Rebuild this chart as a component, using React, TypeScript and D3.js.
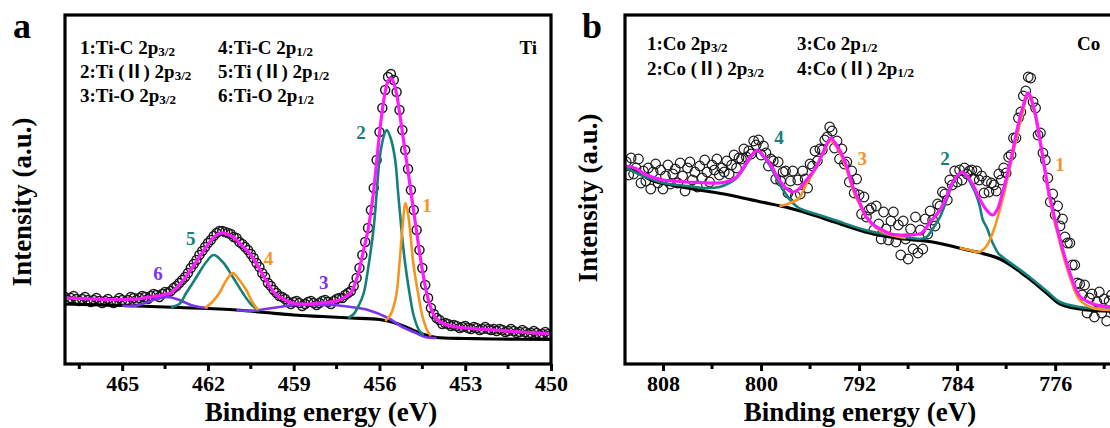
import { useEffect, useRef } from 'react';
import * as d3 from 'd3';

type Pt = [number, number];

// ---------- panel a : Ti 2p ----------
const tiScanStart = 467;
const tiScanStep = 0.1;
const tiCounts = [
  67, 64, 66, 68, 65, 63, 65, 67, 64, 62,
  64, 66, 63, 61, 63, 65, 62, 61, 63, 66,
  64, 62, 64, 67, 66, 64, 66, 68, 67, 65,
  68, 70, 69, 67, 70, 72, 71, 73, 76, 78,
  81, 84, 87, 91, 96, 100, 104, 109, 113, 117,
  121, 124, 128, 131, 133, 133, 132, 131, 130, 127,
  126, 122, 120, 117, 114, 110, 106, 101, 97, 91,
  87, 81, 78, 74, 71, 68, 67, 65, 62, 60,
  62, 63, 61, 58, 60, 62, 63, 61, 59, 61,
  63, 64, 62, 60, 63, 65, 66, 66, 69, 71,
  73, 78, 86, 96, 109, 122, 136, 154, 176, 204,
  232, 256, 274, 287, 290, 284, 272, 254, 234, 214,
  195, 174, 154, 134, 114, 96, 79, 66, 56, 50,
  46, 44, 40, 41, 40, 38, 39, 38, 36, 37,
  38, 36, 35, 37, 36, 34, 35, 37, 35, 34,
  35, 33, 35, 34, 32, 33, 35, 33, 31, 32,
  34, 32, 30, 31, 33, 31, 29, 30, 32, 30,
  29,
];
const tiBackground: Pt[] = [
  [467, 60], [465, 58.5], [463, 56.5], [461, 54], [460, 51.5], [459, 49], [458, 47.5],
  [457, 46], [456, 44.5], [455.5, 41.5], [455, 36], [454.5, 30], [454, 26.5],
  [453, 25.5], [452, 25], [450, 24.5],
];
const tiEnvelope: Pt[] = [
  [467, 66], [466.5, 65.5], [466, 65], [465.5, 64.5], [465, 64.5], [464.5, 65], [464, 67],
  [463.6, 69], [463.3, 71], [463.1, 76], [462.8, 86], [462.53, 97], [462.3, 107],
  [462.06, 117], [461.85, 125], [461.7, 129], [461.5, 131], [461.25, 129], [461, 124],
  [460.8, 118], [460.55, 111], [460.3, 100], [460.08, 89], [459.85, 78], [459.6, 69],
  [459.3, 64], [459.04, 61], [458.5, 60], [458.1, 61], [457.7, 62], [457.4, 64],
  [457.2, 67], [457, 71], [456.9, 77], [456.8, 85], [456.7, 95], [456.6, 108],
  [456.5, 121], [456.4, 134], [456.3, 152], [456.2, 174], [456.1, 202], [456, 230],
  [455.9, 254], [455.8, 272], [455.7, 283], [455.6, 286], [455.5, 281], [455.4, 270],
  [455.3, 252], [455.2, 232], [455.1, 212], [455, 193], [454.9, 172], [454.8, 152],
  [454.7, 132], [454.6, 112], [454.5, 94], [454.4, 78], [454.3, 65], [454.2, 56],
  [454.1, 49], [454, 45], [453.8, 41], [453.5, 38], [453, 36], [452, 34], [451, 32], [450, 30],
];
const tiPeak1: Pt[] = [
  [455.8, 43], [455.6, 50], [455.5, 58], [455.4, 71], [455.29, 104], [455.2, 135],
  [455.09, 161], [455, 150], [454.9, 125], [454.83, 104], [454.74, 86], [454.65, 71],
  [454.5, 48], [454.32, 33], [454.2, 28],
];
const tiPeak2: Pt[] = [
  [457.1, 46], [456.9, 50], [456.7, 60], [456.55, 71], [456.4, 95], [456.2, 137],
  [456, 204], [455.9, 222], [455.8, 232], [455.74, 234], [455.6, 225], [455.45, 204],
  [455.35, 172], [455.24, 137], [455.1, 100], [454.95, 71], [454.8, 48], [454.6, 33], [454.45, 29],
];
const tiPeak3: Pt[] = [
  [461, 54], [460.5, 53], [460.2, 54], [459.5, 57], [459, 59], [458.1, 59], [457.6, 59],
  [457, 57], [456.4, 54], [455.7, 46], [455.2, 37], [454.8, 32], [454.4, 27], [454, 26],
];
const tiPeak4: Pt[] = [
  [462.1, 56], [461.85, 62], [461.6, 71], [461.35, 84], [461.13, 91], [460.9, 84],
  [460.66, 74], [460.45, 62], [460.25, 54],
];
const tiPeak5: Pt[] = [
  [463.3, 57], [463, 60], [462.76, 71], [462.4, 87], [462.06, 102], [461.8, 109],
  [461.48, 102], [461.13, 87], [460.78, 71], [460.5, 60], [460.2, 53],
];
const tiPeak6: Pt[] = [
  [465, 58.5], [464.6, 58], [464.2, 61], [463.8, 65], [463.4, 67], [463, 64],
  [462.6, 59], [462.3, 57], [462, 56],
];
const tiTicks = [465, 462, 459, 456, 453, 450];
const tiMinorTicks = [466.5, 463.5, 460.5, 457.5, 454.5, 451.5];
const tiLegend = [
  ['1:Ti-C 2p', '3/2', '4:Ti-C 2p', '1/2'],
  ['2:Ti (Ⅱ) 2p', '3/2', '5:Ti (Ⅱ) 2p', '1/2'],
  ['3:Ti-O 2p', '3/2', '6:Ti-O 2p', '1/2'],
];
// peak number tags, placed in data coordinates [eV, intensity]
const tiTags: [string, number, number][] = [
  ['1', 454.34, 152], ['2', 456.65, 225], ['3', 457.95, 75],
  ['4', 459.88, 99], ['5', 462.6, 119], ['6', 463.75, 84],
];

// ---------- panel b : Co 2p ----------
const coScanStart = 811;
const coScanStep = 0.2;
const coCounts = [
  202, 189, 206, 190, 196, 205, 181, 193, 183, 196,
  175, 192, 200, 181, 194, 175, 188, 199, 180, 190,
  195, 181, 201, 188, 173, 196, 202, 184, 192, 177,
  198, 186, 204, 192, 182, 199, 194, 205, 189, 196,
  192, 203, 190, 199, 209, 196, 206, 205, 215, 207,
  213, 210, 223, 219, 224, 209, 218, 211, 198, 205,
  203, 185, 202, 183, 192, 193, 171, 183, 193, 168,
  184, 170, 193, 185, 176, 200, 198, 213, 203, 215,
  214, 224, 227, 237, 233, 216, 223, 205, 215, 200,
  202, 182, 193, 171, 185, 169, 150, 167, 147, 154,
  156, 134, 158, 140, 125, 152, 135, 124, 143, 152,
  122, 139, 109, 143, 125, 105, 135, 115, 147, 111,
  134, 115, 145, 130, 153, 144, 138, 160, 158, 172,
  170, 164, 184, 179, 193, 182, 194, 184, 196, 190,
  193, 194, 185, 193, 184, 188, 171, 183, 172, 181,
  179, 173, 190, 184, 196, 191, 207, 209, 226, 226,
  246, 252, 268, 273, 287, 286, 262, 256, 229, 231,
  211, 204, 186, 162, 170, 149, 158, 138, 145, 127,
  121, 121, 99, 99, 81, 80, 69, 79, 51, 66,
  70, 47, 62, 72, 51, 65, 43, 63, 69, 53,
  63,
];
const coBackground: Pt[] = [
  [811.1, 198], [810, 192], [809, 184], [806, 176], [802.6, 169], [800, 162], [798, 157],
  [796, 150], [794, 142], [791.5, 132], [789, 126], [786, 122], [783.5, 115], [780.5, 105],
  [778.3, 87], [776.7, 71], [775.6, 60], [774, 55], [772, 53], [770, 53],
];
const coEnvelope: Pt[] = [
  [811.1, 198], [810.3, 196], [809.5, 190], [808.9, 187], [808, 184], [807, 183],
  [806.1, 182], [805, 181.5], [803.4, 181], [802.6, 183], [802, 187], [801.6, 193],
  [801.2, 201], [800.8, 208], [800.3, 214], [799.8, 208], [799.3, 201], [798.8, 190],
  [798.2, 179], [797.8, 174], [797.4, 172], [797, 174], [796.3, 184], [795.5, 197],
  [795, 210], [794.6, 221], [794.3, 226], [793.9, 220], [793.3, 207], [792.9, 193],
  [792.5, 177], [791.9, 160], [791.4, 147], [790.7, 138], [790.1, 134], [789.4, 130],
  [788.7, 129], [787.8, 129], [786.9, 131], [786.2, 142], [785.4, 154], [784.9, 166],
  [784.4, 181], [784, 188], [783.6, 192], [783.2, 188], [782.7, 179], [782.2, 166],
  [781.6, 154], [781.1, 149], [780.7, 155], [780.3, 171], [779.9, 190], [779.5, 211],
  [779.1, 235], [778.7, 254], [778.2, 271], [777.7, 254], [777.1, 214], [776.5, 171],
  [775.6, 124], [774.8, 91], [774, 68], [772.9, 60], [771.5, 57], [770, 56],
];
const coPeak1: Pt[] = [
  [783.8, 116], [783, 114], [782.2, 112], [781.6, 118], [781.1, 131], [780.3, 164],
  [779.5, 207], [778.7, 249], [778.2, 269], [777.7, 252], [777.1, 212], [776.5, 168],
  [775.6, 120], [774.8, 87], [774, 64], [772.9, 56], [771.5, 54], [770, 54],
];
const coPeak2: Pt[] = [
  [787, 125], [786.5, 127], [786, 135], [785.4, 147], [784.9, 163], [784.4, 179],
  [783.6, 192], [782.7, 176], [782.2, 160], [781.9, 144], [781.6, 137], [781.1, 121],
  [780.6, 110], [780.3, 107], [778.3, 89], [776.7, 73], [775.6, 62], [774, 57], [772, 55], [770, 55],
];
const coPeak3: Pt[] = [
  [798.5, 158], [797.8, 160], [796.9, 166], [796.3, 180], [795.5, 196], [794.9, 212],
  [794.3, 223], [793.9, 218], [793.3, 204], [792.9, 190], [792.5, 174], [791.9, 158],
  [791.4, 146], [790.7, 137], [790.1, 132], [789.4, 129], [788.7, 127], [788.2, 126],
];
const coPeak4: Pt[] = [
  [811.1, 197], [810, 190], [809, 185], [808, 181], [806, 178], [804.5, 176], [803.4, 177],
  [802.6, 181], [802, 186], [801.6, 192], [801.2, 200], [800.8, 207], [800.3, 213],
  [799.8, 207], [799.3, 199], [798.8, 187], [798.2, 174], [797.4, 161], [796.9, 156],
  [796.3, 153], [795.5, 150], [794, 144], [791.5, 134], [789, 128], [787, 125],
];
const coTicks = [808, 800, 792, 784, 776];
const coMinorTicks = [804, 796, 788, 780, 772];
const coLegend = [
  ['1:Co 2p', '3/2', '3:Co 2p', '1/2'],
  ['2:Co (Ⅱ) 2p', '3/2', '4:Co (Ⅱ) 2p', '1/2'],
];
const coTags: [string, number, number][] = [
  ['1', 775.6, 193], ['2', 784.98, 199], ['3', 791.75, 199], ['4', 798.53, 220],
];

const FONT = "'Liberation Serif', 'Times New Roman', 'Noto Sans CJK SC', serif";
const ORANGE = '#F7941E';
const TEAL = '#15807A';
const PURPLE = '#7B34EE';
const MAGENTA = '#FF1AFF';
const TOP = 15;
const BOTTOM = 364;

function drawPanel(svg: any, p: any) {
  const x = d3.scaleLinear().domain(p.xDomain).range([p.left, p.right]);
  const y = d3.scaleLinear().domain([0, BOTTOM - TOP]).range([BOTTOM, TOP]);
  const line = d3.line<Pt>().x(d => x(d[0])).y(d => y(d[1])).curve(d3.curveCatmullRom.alpha(0.5));

  svg.append('clipPath').attr('id', `clip-${p.key}`)
    .append('rect')
    .attr('x', p.left).attr('y', TOP)
    .attr('width', p.right - p.left).attr('height', BOTTOM - TOP);

  const plot = svg.append('g').attr('clip-path', `url(#clip-${p.key})`);

  // measured points, open circles
  plot.selectAll('circle')
    .data(p.counts)
    .join('circle')
    .attr('cx', (_: number, i: number) => x(p.start - i * p.step))
    .attr('cy', (d: number) => y(d))
    .attr('r', p.r)
    .attr('fill', 'none')
    .attr('stroke', '#1c1c1c')
    .attr('stroke-width', p.circleStroke);

  plot.append('path').datum(p.background)
    .attr('d', line).attr('fill', 'none').attr('stroke', '#000').attr('stroke-width', 3.2);

  p.peaks.forEach((pk: any) => {
    plot.append('path').datum(pk.points)
      .attr('d', line).attr('fill', 'none').attr('stroke', pk.color).attr('stroke-width', 2.6);
  });

  plot.append('path').datum(p.envelope)
    .attr('d', line).attr('fill', 'none').attr('stroke', MAGENTA).attr('stroke-width', 3.2);

  // frame
  svg.append('rect')
    .attr('x', p.left).attr('y', TOP)
    .attr('width', p.right - p.left).attr('height', BOTTOM - TOP)
    .attr('fill', 'none').attr('stroke', '#000').attr('stroke-width', 3.2);

  // bottom axis
  const axis = svg.append('g')
    .attr('transform', `translate(0,${BOTTOM})`)
    .call(d3.axisBottom(x).tickValues(p.ticks).tickSize(7).tickSizeOuter(0).tickPadding(4).tickFormat(d3.format('d')));
  axis.select('.domain').remove();
  axis.selectAll('line').attr('stroke-width', 3);
  axis.selectAll('text')
    .attr('font-family', FONT).attr('font-weight', 'bold').attr('font-size', 22).attr('fill', '#000');

  svg.append('g').selectAll('line')
    .data(p.minorTicks)
    .join('line')
    .attr('x1', (d: number) => x(d)).attr('x2', (d: number) => x(d))
    .attr('y1', BOTTOM).attr('y2', BOTTOM + 5)
    .attr('stroke', '#000').attr('stroke-width', 3);

  // axis titles
  svg.append('text')
    .attr('x', p.xTitleX).attr('y', 421)
    .attr('text-anchor', 'middle')
    .attr('font-family', FONT).attr('font-weight', 'bold').attr('font-size', 27)
    .text('Binding energy (eV)');
  svg.append('text')
    .attr('transform', `translate(${p.yTitleX},${p.yTitleY}) rotate(-90)`)
    .attr('text-anchor', 'middle')
    .attr('font-family', FONT).attr('font-weight', 'bold').attr('font-size', 27)
    .text('Intensity (a.u.)');

  // panel letter
  svg.append('text')
    .attr('x', p.letterX).attr('y', 38)
    .attr('font-family', FONT).attr('font-weight', 'bold').attr('font-size', 36)
    .text(p.letter);

  // element label
  svg.append('text')
    .attr('x', p.elementX).attr('y', p.legendY[0])
    .attr('text-anchor', p.elementAnchor)
    .attr('font-family', FONT).attr('font-weight', 'bold').attr('font-size', 19)
    .text(p.element);

  // legend rows
  p.legend.forEach((row: string[], i: number) => {
    [0, 1].forEach(c => {
      const t = svg.append('text')
        .attr('x', p.legendX[c]).attr('y', p.legendY[i])
        .attr('font-family', FONT).attr('font-weight', 'bold').attr('font-size', 19);
      t.append('tspan').text(row[c * 2]);
      t.append('tspan').attr('font-size', 13).attr('dy', 2).text(row[c * 2 + 1]);
    });
  });

  // peak tags
  p.tags.forEach(([label, e, v]: [string, number, number]) => {
    svg.append('text')
      .attr('x', x(e)).attr('y', y(v))
      .attr('text-anchor', 'middle')
      .attr('font-family', FONT).attr('font-weight', 'bold').attr('font-size', 19)
      .attr('fill', p.tagColors[label])
      .text(label);
  });
}

export default function App() {
  const svgRef = useRef<SVGSVGElement>(null);

  useEffect(() => {
    const svg = d3.select(svgRef.current);
    svg.selectAll('*').remove();

    drawPanel(svg, {
      key: 'ti',
      xDomain: [467, 450], left: 65, right: 551,
      start: tiScanStart, step: tiScanStep, counts: tiCounts, r: 4.5, circleStroke: 1.5,
      background: tiBackground, envelope: tiEnvelope,
      peaks: [
        { points: tiPeak3, color: PURPLE }, { points: tiPeak6, color: PURPLE },
        { points: tiPeak2, color: TEAL }, { points: tiPeak5, color: TEAL },
        { points: tiPeak1, color: ORANGE }, { points: tiPeak4, color: ORANGE },
      ],
      ticks: tiTicks, minorTicks: tiMinorTicks,
      xTitleX: 321, yTitleX: 31, yTitleY: 202,
      letter: 'a', letterX: 13,
      element: 'Ti', elementX: 537, elementAnchor: 'end',
      legend: tiLegend, legendX: [80, 218], legendY: [54, 78, 102],
      tags: tiTags,
      tagColors: { '1': ORANGE, '2': TEAL, '3': PURPLE, '4': ORANGE, '5': TEAL, '6': PURPLE },
    });

    drawPanel(svg, {
      key: 'co',
      xDomain: [811.1, 771.2], left: 625, right: 1114,
      start: coScanStart, step: coScanStep, counts: coCounts, r: 4.8, circleStroke: 1.2,
      background: coBackground, envelope: coEnvelope,
      peaks: [
        { points: coPeak4, color: TEAL }, { points: coPeak2, color: TEAL },
        { points: coPeak3, color: ORANGE }, { points: coPeak1, color: ORANGE },
      ],
      ticks: coTicks, minorTicks: coMinorTicks,
      xTitleX: 860, yTitleX: 597, yTitleY: 198,
      letter: 'b', letterX: 582,
      element: 'Co', elementX: 1077, elementAnchor: 'start',
      legend: coLegend, legendX: [647, 797], legendY: [50, 75],
      tags: coTags,
      tagColors: { '1': ORANGE, '2': TEAL, '3': ORANGE, '4': TEAL },
    });
  }, []);

  return (
    <svg
      ref={svgRef}
      width={1110}
      height={428}
      style={{ position: 'absolute', left: 0, top: 0, background: '#fff', display: 'block' }}
    />
  );
}
